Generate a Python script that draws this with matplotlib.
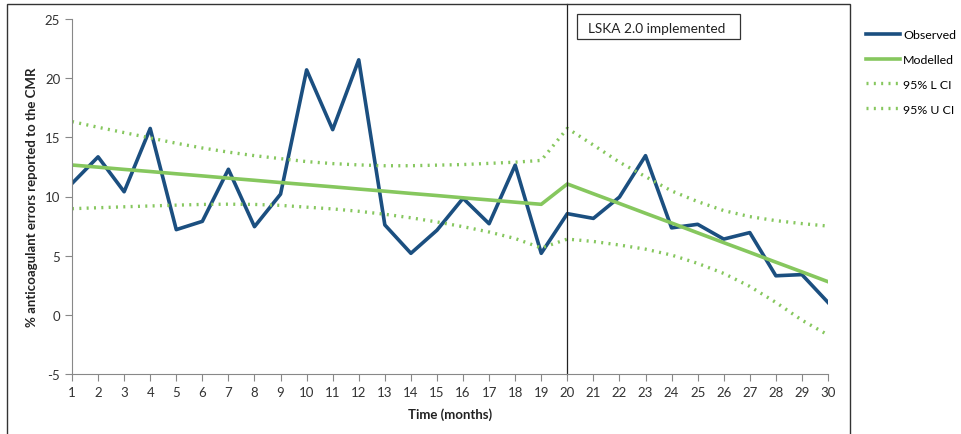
import matplotlib.pyplot as plt
from matplotlib.patches import Rectangle

months = list(range(1, 31))

observed = [11.1, 13.35, 10.4, 15.75, 7.2, 7.9, 12.3, 7.45, 10.2, 20.7,
            15.65, 21.55, 7.6, 5.2, 7.15, 9.85, 7.7, 12.65, 5.2, 8.55,
            8.15, 9.95, 13.45, 7.35, 7.65, 6.4, 6.95, 3.3, 3.4, 1.05]

modelled = [12.66, 12.48, 12.29, 12.11, 11.92, 11.74, 11.55, 11.37, 11.18, 11.0,
            10.82, 10.63, 10.45, 10.26, 10.08, 9.89, 9.71, 9.52, 9.34, 11.06,
            10.23, 9.41, 8.58, 7.76, 6.93, 6.10, 5.28, 4.45, 3.63, 2.80]

lower_ci = [8.97, 9.05, 9.13, 9.2, 9.27, 9.33, 9.35, 9.33, 9.25, 9.1,
            8.95, 8.75, 8.5, 8.2, 7.85, 7.45, 7.0, 6.45, 5.65, 6.4,
            6.2, 5.9, 5.55, 5.05, 4.35, 3.5, 2.4, 1.05, -0.45, -1.7]

upper_ci = [16.33, 15.85, 15.4, 14.95, 14.5, 14.1, 13.75, 13.45, 13.2, 12.95,
            12.78, 12.67, 12.6, 12.6, 12.65, 12.7, 12.8, 12.9, 13.05, 15.76,
            14.35, 12.9, 11.68, 10.47, 9.57, 8.81, 8.3, 7.96, 7.71, 7.5]

blue = '#1B4F80'
green = '#86C75E'

plt.rcParams['font.family'] = ['Lato', 'DejaVu Sans']
plt.rcParams['axes.unicode_minus'] = False

fig = plt.figure(figsize=(9.62, 4.35), dpi=100)
ax = fig.add_axes([72 / 962, 1 - 375 / 435, 756 / 962, 355 / 435])

ax.plot(months, observed, color=blue, lw=2.6, label='Observed')
ax.plot(months, modelled, color=green, lw=2.6, label='Modelled')
ax.plot(months, lower_ci, color=green, lw=2.4, ls=(0, (0.6, 1.6)), label='95% L CI')
ax.plot(months, upper_ci, color=green, lw=2.4, ls=(0, (0.6, 1.6)), label='95% U CI')

ax.axvline(20, ymin=0, ymax=(375 - 5) / 355, color='#222222', lw=0.9, clip_on=False)

ax.set_xlim(1, 30)
ax.set_ylim(-5, 25)
ax.set_xticks(months)
ax.set_yticks(range(-5, 26, 5))
for side in ['top', 'right']:
    ax.spines[side].set_visible(False)
for side in ['left', 'bottom']:
    ax.spines[side].set_color('#888888')
ax.tick_params(direction='out', length=5, color='#888888', labelsize=9.5, labelcolor='#333333')
ax.tick_params(axis='x', pad=4)

ax.set_xlabel('Time (months)', fontsize=9.5, fontweight='bold', color='#222222', labelpad=6)
ax.set_ylabel('% anticoagulant errors reported to the CMR', fontsize=9.5,
              fontweight='bold', color='#222222', labelpad=5)

# annotation box
fig.text(588 / 962, 1 - 29 / 435, 'LSKA 2.0 implemented', fontsize=9.8,
         color='#222222', va='center', ha='left')
fig.patches.append(Rectangle((577 / 962, 1 - 40 / 435), 163 / 962, 25 / 435,
                             transform=fig.transFigure, fill=False, ec='#333333', lw=0.9))

# outer frame of the chart area
fig.patches.append(Rectangle((7 / 962, -0.2), 843 / 962, 1.2 - 5 / 435,
                             transform=fig.transFigure, fill=False, ec='#333333', lw=1.0))

ax.legend(loc='upper left', bbox_to_anchor=(866 / 962, 1 - 30 / 435),
          bbox_transform=fig.transFigure, frameon=False, fontsize=8.9,
          handlelength=2.75, handletextpad=0.25, labelspacing=1.12, borderaxespad=0,
          borderpad=0)

fig.savefig('out.png', dpi=100)
